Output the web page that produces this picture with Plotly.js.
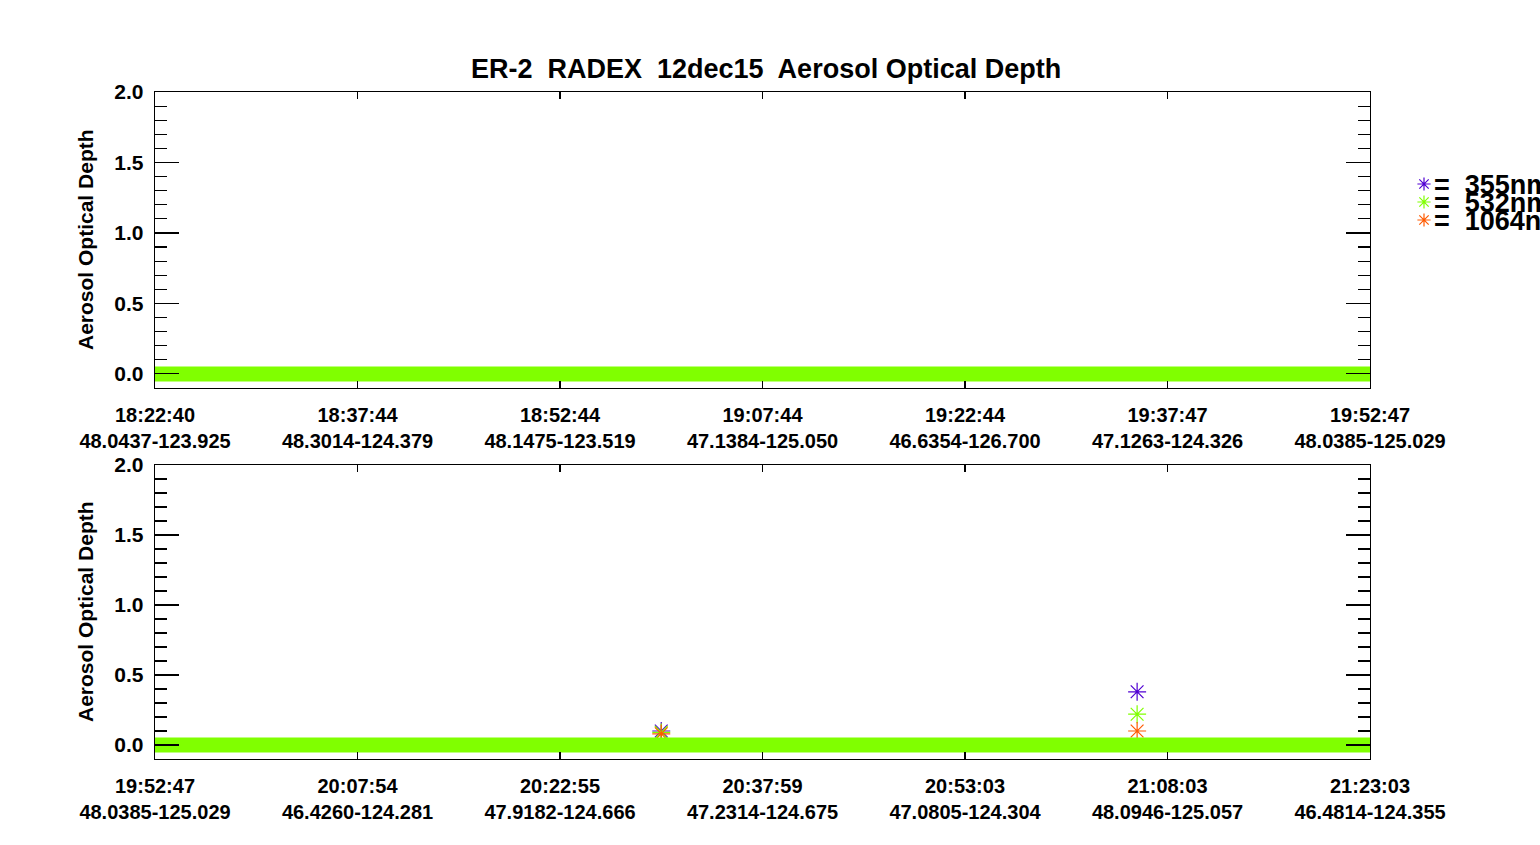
<!DOCTYPE html>
<html>
<head>
<meta charset="utf-8">
<script src="https://cdn.plot.ly/plotly-3.0.1.min.js"></script>
<style>
  html,body{margin:0;padding:0;background:#fff;}
  #chart{width:1540px;height:845px;}
</style>
</head>
<body>
<div id="chart"></div>
<script>
(function(){
  // --------- Datos ---------
  const wavelengths = ['355nm', '532nm', '1064nm'];
  const colors      = ['#5000d2', '#80ff00', '#ff5a00'];

  // eje x: indice de tramo (0..6) con etiquetas hora / lat-lon
  const tickPos = [0, 1, 2, 3, 4, 5, 6];
  const timesTop = ['18:22:40','18:37:44','18:52:44','19:07:44','19:22:44','19:37:47','19:52:47'];
  const posTop   = ['48.0437-123.925','48.3014-124.379','48.1475-123.519','47.1384-125.050','46.6354-126.700','47.1263-124.326','48.0385-125.029'];
  const timesBot = ['19:52:47','20:07:54','20:22:55','20:37:59','20:53:03','21:08:03','21:23:03'];
  const posBot   = ['48.0385-125.029','46.4260-124.281','47.9182-124.666','47.2314-124.675','47.0805-124.304','48.0946-125.057','46.4814-124.355'];

  // traza casi nula (todo el vuelo) -> banda verde
  const trackX = [0, 6];
  const trackY = [0, 0];

  // observaciones no nulas del panel inferior
  const obsX    = [2.50, 4.85];
  const aod355  = [0.10, 0.38];
  const aod532  = [0.09, 0.22];
  const aod1064 = [0.08, 0.10];
  const obsAod  = [aod355, aod532, aod1064];

  const yTicks = [0, 0.5, 1, 1.5, 2];
  const yTickText = ['0.0', '0.5', '1.0', '1.5', '2.0'];

  // --------- Helpers ---------
  const W = 1540, H = 845;
  const px = x => x / W;
  const py = y => 1 - y / H;
  const FONT = 'Liberation Sans, Arial, sans-serif';
  const tickText = (t, p) => t.map((s, i) => `<b>${s}</b><br><b>${p[i]}</b>`);

  function xAxis(anchor, times, pos){
    return {
      domain: [px(155), px(1370)], anchor: anchor, range: [0, 6],
      tickvals: tickPos, ticktext: tickText(times, pos),
      ticks: 'inside', ticklen: 7, tickwidth: 1.2, tickcolor: '#000',
      showline: true, linecolor: '#000', linewidth: 1.3, mirror: 'ticks',
      showgrid: false, zeroline: false, fixedrange: true,
      tickfont: {family: FONT, size: 20, color: '#000'},
      ticklabelstandoff: 9
    };
  }
  function yAxis(anchor, dom){
    return {
      domain: dom, anchor: anchor, range: [-0.1, 2.0],
      tickvals: yTicks, ticktext: yTickText.map(s => `<b>${s}</b>`),
      ticks: 'inside', ticklen: 24, tickwidth: 1.2, tickcolor: '#000',
      minor: {dtick: 0.1, tick0: 0, ticks: 'inside', ticklen: 12, tickwidth: 1.2, tickcolor: '#000', showgrid: false},
      showline: true, linecolor: '#000', linewidth: 1.3, mirror: 'ticks',
      showgrid: false, zeroline: false, fixedrange: true,
      tickfont: {family: FONT, size: 21, color: '#000'},
      ticklabelstandoff: 6
    };
  }

  const traces = [];

  // observaciones (panel inferior)
  wavelengths.forEach((w, i) => {
    traces.push({
      x: obsX, y: obsAod[i], xaxis: 'x2', yaxis: 'y2',
      type: 'scatter', mode: 'markers', showlegend: false, hoverinfo: 'skip',
      marker: {symbol: 'asterisk-open', size: 15, color: colors[i], line: {color: colors[i], width: 1.2}}
    });
  });

  // banda de valores ~0 en ambos paneles (532nm encima)
  [['x','y'], ['x2','y2']].forEach(([xa, ya]) => {
    traces.push({
      x: trackX, y: trackY, xaxis: xa, yaxis: ya,
      type: 'scatter', mode: 'lines', showlegend: false, hoverinfo: 'skip',
      line: {color: colors[1], width: 15}
    });
  });

  // leyenda (claves)
  const keyY = [184, 202, 220];
  traces.push({
    x: keyY.map(() => 1424), y: keyY, xaxis: 'x3', yaxis: 'y3',
    type: 'scatter', mode: 'markers', showlegend: false, hoverinfo: 'skip',
    marker: {symbol: 'asterisk-open', size: 11, color: colors, line: {color: colors, width: 1.2}}
  });

  const annotations = [
    {text: '<b>ER-2  RADEX  12dec15  Aerosol Optical Depth</b>', xref: 'paper', yref: 'paper',
     x: px(766), y: py(69), xanchor: 'center', yanchor: 'middle', showarrow: false,
     font: {family: FONT, size: 27, color: '#000'}},
    {text: '<b>Aerosol Optical Depth</b>', xref: 'paper', yref: 'paper', textangle: -90,
     x: px(85), y: py(240), xanchor: 'center', yanchor: 'middle', showarrow: false,
     font: {family: FONT, size: 21, color: '#000'}},
    {text: '<b>Aerosol Optical Depth</b>', xref: 'paper', yref: 'paper', textangle: -90,
     x: px(85), y: py(612), xanchor: 'center', yanchor: 'middle', showarrow: false,
     font: {family: FONT, size: 21, color: '#000'}}
  ];
  wavelengths.forEach((w, i) => {
    annotations.push({
      text: '<b>=  ' + w + '</b>', xref: 'paper', yref: 'paper',
      x: px(1432), y: py(keyY[i] + 1), xanchor: 'left', yanchor: 'middle', showarrow: false,
      font: {family: FONT, size: 27, color: '#000'}
    });
  });

  const layout = {
    width: W, height: H,
    margin: {l: 0, r: 0, t: 0, b: 0},
    paper_bgcolor: '#fff', plot_bgcolor: 'rgba(0,0,0,0)',
    showlegend: false,
    xaxis:  xAxis('y',  timesTop, posTop),
    yaxis:  yAxis('x',  [py(388), py(92)]),
    xaxis2: xAxis('y2', timesBot, posBot),
    yaxis2: yAxis('x2', [py(759), py(465)]),
    xaxis3: {domain: [0, 1], range: [0, W], visible: false, fixedrange: true, anchor: 'y3'},
    yaxis3: {domain: [0, 1], range: [H, 0], visible: false, fixedrange: true, anchor: 'x3'},
    annotations: annotations
  };

  Plotly.newPlot('chart', traces, layout, {displayModeBar: false, staticPlot: true});
})();
</script>
</body>
</html>
